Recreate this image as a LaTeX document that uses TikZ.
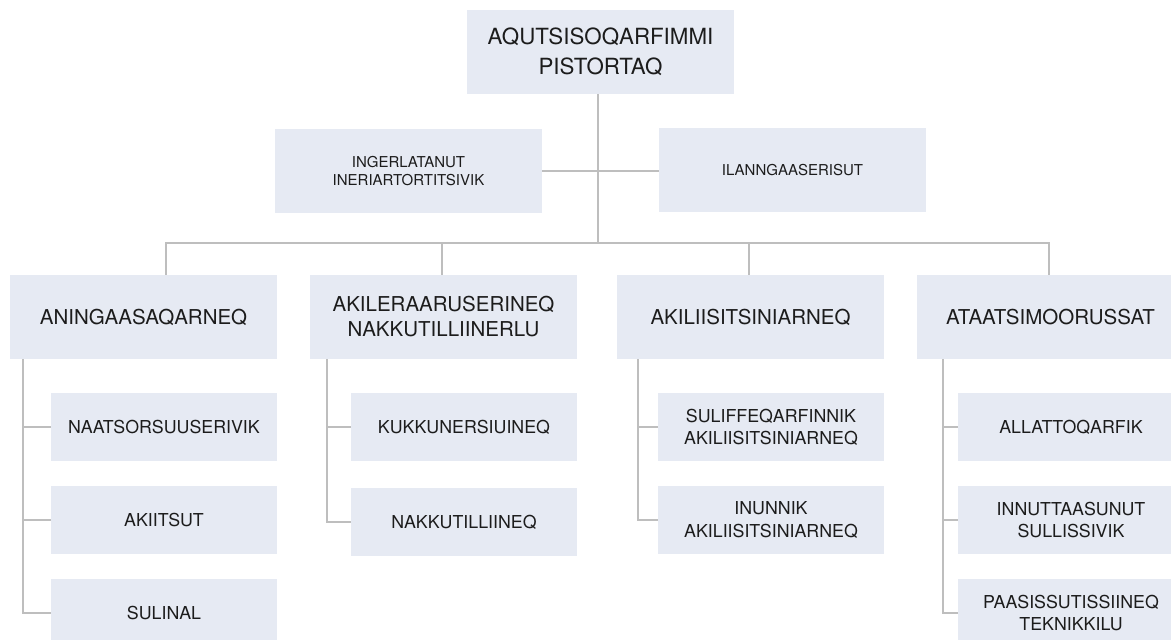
\documentclass[tikz,border=0pt]{standalone}
\usepackage{fontspec}
\setmainfont{TeX Gyre Heros}
\usetikzlibrary{backgrounds}
\definecolor{boxfill}{HTML}{E6EAF3}
\definecolor{linegray}{HTML}{BEBEBE}
\definecolor{txt}{HTML}{1C1C1C}
\tikzset{
  base/.style={fill=boxfill, draw=none, inner sep=0pt, align=center, text=txt},
  topbox/.style={base, minimum width=267pt, minimum height=84pt, font=\fontsize{22.3}{30}\selectfont},
  midbox/.style={base, minimum width=267pt, minimum height=84pt, font=\fontsize{15}{18.3}\selectfont},
  lvlbox/.style={base, minimum width=267pt, minimum height=84pt, font=\fontsize{20.5}{25}\selectfont},
  kidbox/.style={base, minimum width=226pt, minimum height=68pt, font=\fontsize{17.8}{22.3}\selectfont},
  conn/.style={draw=linegray, line width=2.8pt}
}
\begin{document}
\begin{tikzpicture}[x=1pt,y=-1pt]
\useasboundingbox (0,0) rectangle (1171,640);
\begin{scope}
\clip (0,0) rectangle (1171,640);
% top
\node[topbox] (top) at (600.5,52) {AQUTSISOQARFIMMI\\PISTORTAQ};
\node[midbox] (ml) at (408.5,171) {INGERLATANUT\\INERIARTORTITSIVIK};
\node[midbox] (mr) at (792.5,170) {ILANNGAASERISUT};
% level 2
\node[lvlbox] (a) at (143.5,317) {ANINGAASAQARNEQ};
\node[lvlbox] (b) at (443.5,317) {AKILERAARUSERINEQ\\NAKKUTILLIINERLU};
\node[lvlbox] (c) at (750.5,317) {AKILIISITSINIARNEQ};
\node[lvlbox] (d) at (1050.5,317) {ATAATSIMOORUSSAT};
% children
\node[kidbox] (a1) at (164,427) {NAATSORSUUSERIVIK};
\node[kidbox] (a2) at (164,520) {AKIITSUT};
\node[kidbox] (a3) at (164,613) {SULINAL};
\node[kidbox] (b1) at (464,427) {KUKKUNERSIUINEQ};
\node[kidbox] (b2) at (464,522) {NAKKUTILLIINEQ};
\node[kidbox] (c1) at (771,427) {SULIFFEQARFINNIK\\AKILIISITSINIARNEQ};
\node[kidbox] (c2) at (771,520) {INUNNIK\\AKILIISITSINIARNEQ};
\node[kidbox] (d1) at (1071,427) {ALLATTOQARFIK};
\node[kidbox] (d2) at (1071,520) {INNUTTAASUNUT\\SULLISSIVIK};
\node[kidbox] (d3) at (1071,613) {PAASISSUTISSIINEQ\\TEKNIKKILU};
\end{scope}
% coordinates
\coordinate (trunk) at (598,243);
\coordinate (mid) at (598,171);
\coordinate (barL) at (166,243);
\coordinate (barB) at (442,243);
\coordinate (barC) at (749,243);
\coordinate (barR) at (1049,243);
\coordinate (va) at (23,359);
\coordinate (vb) at (327,359);
\coordinate (vc) at (638,359);
\coordinate (vd) at (943,359);
\begin{scope}[on background layer]
\draw[conn] (top.south -| trunk) -- (trunk);
\draw[conn] (ml.east |- mid) -- (mr.west |- mid);
\draw[conn, line cap=rect] (barL) -- (barR);
\draw[conn] (barL) -- (a.north -| barL);
\draw[conn] (barB) -- (b.north -| barB);
\draw[conn] (barC) -- (c.north -| barC);
\draw[conn] (barR) -- (d.north -| barR);
% branch a
\draw[conn] (va) |- (a3.west);
\draw[conn] (va |- a1.west) -- (a1.west);
\draw[conn] (va |- a2.west) -- (a2.west);
% branch b
\draw[conn] (vb) |- (b2.west);
\draw[conn] (vb |- b1.west) -- (b1.west);
% branch c
\draw[conn] (vc) |- (c2.west);
\draw[conn] (vc |- c1.west) -- (c1.west);
% branch d
\draw[conn] (vd) |- (d3.west);
\draw[conn] (vd |- d1.west) -- (d1.west);
\draw[conn] (vd |- d2.west) -- (d2.west);
\end{scope}
\end{tikzpicture}
\end{document}
